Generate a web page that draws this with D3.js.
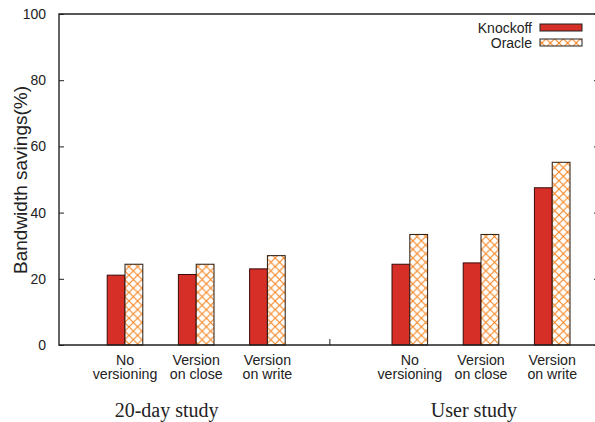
<!DOCTYPE html>
<html>
<head>
<meta charset="utf-8">
<script src="https://cdn.jsdelivr.net/npm/d3@7"></script>
<style>
  body { margin: 0; background: #fff; }
  svg { display: block; }
  text { font-family: "Liberation Sans", Arial, sans-serif; fill: #222; }
  .study { font-family: "Liberation Serif", "Times New Roman", serif; }
</style>
</head>
<body>
<script>
// values
const categories = [
    ["No", "versioning"], ["Version", "on close"], ["Version", "on write"],
    ["No", "versioning"], ["Version", "on close"], ["Version", "on write"]
];
const groupPos = [0, 1, 2, 4, 5, 6];
const knockoff = [21.1, 21.3, 23.0, 24.4, 24.8, 47.5];
const oracle = [24.4, 24.4, 27.0, 33.4, 33.4, 55.2];
const seriesNames = ["Knockoff", "Oracle"];
const studies = ["20-day study", "User study"];
const studyPos = [0.585, 4.9];
const separatorPos = [2.87];
const yTicks = [0, 20, 40, 60, 80, 100];

let width = 595;
let height = 422;
let plotLeft = 59, plotRight = 599, plotTop = 14, plotBottom = 345;
let barW = 0.25;

var svg = d3.select('body').append('svg')
    .attr('width', width)
    .attr('height', height);

var defs = svg.append('defs');
var pat = defs.append('pattern')
    .attr('id', 'hatch')
    .attr('patternUnits', 'userSpaceOnUse')
    .attr('width', 8.6)
    .attr('height', 8.6);
pat.append('rect').attr('width', 8.6).attr('height', 8.6).attr('fill', '#fff');
pat.append('path')
    .attr('d', 'M0,0L8.6,8.6M8.6,0L0,8.6')
    .attr('stroke', '#f5831f')
    .attr('stroke-width', 1.1);

var xScale = d3.scaleLinear()
    .domain([-0.927, 6.657])
    .range([plotLeft, plotRight]);
var yScale = d3.scaleLinear()
    .domain([0, 100])
    .range([plotBottom, plotTop]);

// bars
let bars = svg.append('g').attr('class', 'bars');
for (let i = 0; i < groupPos.length; ++i) {
    let c = groupPos[i];
    bars.append('rect')
        .attr('x', xScale(c - barW))
        .attr('y', yScale(knockoff[i]))
        .attr('width', xScale(c) - xScale(c - barW))
        .attr('height', yScale(0) - yScale(knockoff[i]))
        .attr('fill', '#d62f27')
        .attr('stroke', '#3a0a08')
        .attr('stroke-width', 1);
    bars.append('rect')
        .attr('x', xScale(c))
        .attr('y', yScale(oracle[i]))
        .attr('width', xScale(c + barW) - xScale(c))
        .attr('height', yScale(0) - yScale(oracle[i]))
        .attr('fill', 'url(#hatch)')
        .attr('stroke', '#2a1a10')
        .attr('stroke-width', 1);
}

// frame
svg.append('path')
    .attr('d', 'M' + plotRight + ',' + plotTop + 'H' + plotLeft + 'V' + plotBottom + 'H' + plotRight)
    .attr('fill', 'none')
    .attr('stroke', '#222')
    .attr('stroke-width', 1.4);

// y axis, ticks inside
var yAxis = d3.axisLeft(yScale)
    .tickValues(yTicks)
    .tickSizeInner(-5)
    .tickSizeOuter(0)
    .tickPadding(13);
let ya = svg.append('g')
    .attr('class', 'y axis')
    .attr('transform', 'translate(' + plotLeft + ',0)')
    .call(yAxis);
ya.select('.domain').remove();
ya.selectAll('line').attr('stroke', '#222');
ya.selectAll('text')
    .style('font-size', '14px')
    .style('font-family', '"Liberation Sans", Arial, sans-serif')
    .attr('fill', '#222');

// mirror ticks on the right
var yAxisR = d3.axisRight(yScale)
    .tickValues(yTicks)
    .tickSizeInner(-5)
    .tickSizeOuter(0)
    .tickFormat('');
let yr = svg.append('g')
    .attr('transform', 'translate(' + plotRight + ',0)')
    .call(yAxisR);
yr.select('.domain').remove();
yr.selectAll('line').attr('stroke', '#222');

// separator tick on the x axis
var xAxis = d3.axisBottom(xScale)
    .tickValues(separatorPos)
    .tickSizeInner(-6)
    .tickSizeOuter(0)
    .tickFormat('');
let xa = svg.append('g')
    .attr('transform', 'translate(0,' + plotBottom + ')')
    .call(xAxis);
xa.select('.domain').remove();
xa.selectAll('line').attr('stroke', '#222');

// category labels, two lines each
let cat = svg.append('g').attr('class', 'categories');
for (let i = 0; i < categories.length; ++i) {
    for (let j = 0; j < 2; ++j) {
        cat.append('text')
            .attr('text-anchor', 'middle')
            .attr('x', xScale(groupPos[i]))
            .attr('y', 364.5 + j * 14)
            .style('font-size', '14.2px')
            .text(categories[i][j]);
    }
}

// study labels
for (let i = 0; i < studies.length; ++i) {
    svg.append('text')
        .attr('class', 'study')
        .attr('text-anchor', 'middle')
        .attr('x', xScale(studyPos[i]))
        .attr('y', 417)
        .style('font-size', '20px')
        .text(studies[i]);
}

// y axis title
svg.append('text')
    .attr('text-anchor', 'middle')
    .attr('transform', 'translate(27,180) rotate(-90)')
    .style('font-size', '19px')
    .text('Bandwidth savings(%)');

// legend
let legend = svg.append('g').attr('class', 'legend');
let fills = ['#d62f27', 'url(#hatch)'];
for (let i = 0; i < seriesNames.length; ++i) {
    let yy = 27.5 + i * 15;
    legend.append('text')
        .attr('text-anchor', 'end')
        .attr('x', 532)
        .attr('y', yy)
        .attr('dy', '0.36em')
        .style('font-size', '14px')
        .text(seriesNames[i]);
    legend.append('rect')
        .attr('x', 540)
        .attr('y', yy - 3.5)
        .attr('width', 42)
        .attr('height', 7)
        .attr('fill', fills[i])
        .attr('stroke', '#222')
        .attr('stroke-width', 1);
}
</script>
</body>
</html>
